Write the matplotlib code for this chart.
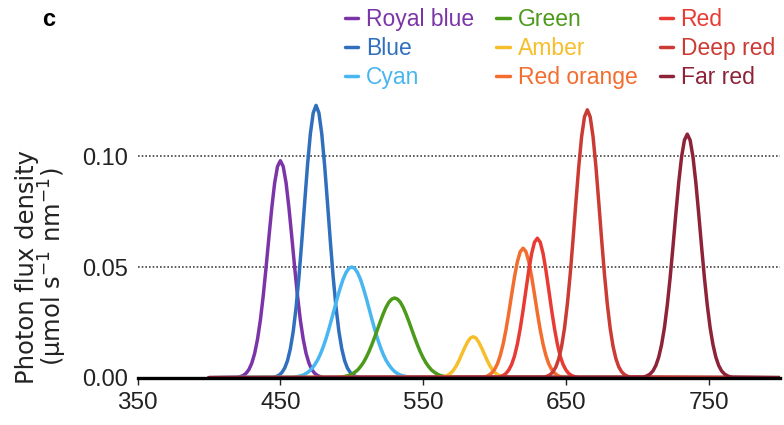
import matplotlib
matplotlib.use("Agg")
import matplotlib.pyplot as plt

# ===============================
# DATA (photon flux density, umol s-1 nm-1)
# ===============================
LED_NAMES = ["Royal blue", "Blue", "Cyan", "Green", "Amber",
             "Red orange", "Red", "Deep red", "Far red"]

LED_COLORS = ["#7b35a8", "#2f6fbd", "#48b6f0", "#4c9a1a", "#f6be2a",
              "#f26d2e", "#e83b33", "#cc3a34", "#8e2237"]

royal_blue_wl = list(range(420, 481, 2))
royal_blue = [0.0002, 0.0005, 0.0010, 0.0020, 0.0037, 0.0066, 0.0110, 0.0174, 0.0260, 0.0370,
              0.0499, 0.0636, 0.0768, 0.0880, 0.0954,
              0.0980,
              0.0954, 0.0880, 0.0768, 0.0636, 0.0499, 0.0370, 0.0260, 0.0174, 0.0110, 0.0066,
              0.0037, 0.0020, 0.0010, 0.0005, 0.0002]

blue_wl = list(range(445, 506, 2))
blue = [0.0002, 0.0005, 0.0011, 0.0023, 0.0043, 0.0077, 0.0131, 0.0209, 0.0317, 0.0454,
        0.0616, 0.0790, 0.0959, 0.1101, 0.1196,
        0.1230,
        0.1196, 0.1101, 0.0959, 0.0790, 0.0616, 0.0454, 0.0317, 0.0209, 0.0131, 0.0077,
        0.0043, 0.0023, 0.0011, 0.0005, 0.0002]

cyan_wl = list(range(458, 543, 2))
cyan = [0.0002, 0.0003, 0.0005, 0.0008, 0.0012, 0.0019, 0.0028, 0.0041, 0.0058, 0.0079,
        0.0106, 0.0139, 0.0177, 0.0220, 0.0267, 0.0315, 0.0363, 0.0407, 0.0446, 0.0475,
        0.0494,
        0.0500,
        0.0494,
        0.0475, 0.0446, 0.0407, 0.0363, 0.0315, 0.0267, 0.0220, 0.0177, 0.0139, 0.0106,
        0.0079, 0.0058, 0.0041, 0.0028, 0.0019, 0.0012, 0.0008, 0.0005, 0.0003, 0.0002]

green_wl = list(range(488, 573, 2))
green = [0.0001, 0.0001, 0.0002, 0.0004, 0.0007, 0.0010, 0.0016, 0.0024, 0.0034, 0.0049,
         0.0067, 0.0090, 0.0117, 0.0148, 0.0182, 0.0218, 0.0254, 0.0288, 0.0318, 0.0341,
         0.0355,
         0.0360,
         0.0355,
         0.0341, 0.0318, 0.0288, 0.0254, 0.0218, 0.0182, 0.0148, 0.0117, 0.0090, 0.0067,
         0.0049, 0.0034, 0.0024, 0.0016, 0.0010, 0.0007, 0.0004, 0.0002, 0.0001, 0.0001]

amber_wl = list(range(561, 610, 2))
amber = [0.0001, 0.0002, 0.0005, 0.0010, 0.0019, 0.0032, 0.0051, 0.0076, 0.0105, 0.0134,
         0.0160, 0.0179,
         0.0185,
         0.0179, 0.0160, 0.0134, 0.0105, 0.0076, 0.0051, 0.0032, 0.0019, 0.0010, 0.0005,
         0.0002, 0.0001]

red_orange_wl = list(range(590, 651, 2))
red_orange = [0.0001, 0.0003, 0.0005, 0.0011, 0.0021, 0.0037, 0.0062, 0.0100, 0.0151, 0.0216,
              0.0293, 0.0376, 0.0456, 0.0524, 0.0569,
              0.0585,
              0.0569, 0.0524, 0.0456, 0.0376, 0.0293, 0.0216, 0.0151, 0.0100, 0.0062, 0.0037,
              0.0021, 0.0011, 0.0005, 0.0003, 0.0001]

red_wl = list(range(600, 661, 2))
red = [0.0001, 0.0002, 0.0005, 0.0010, 0.0019, 0.0035, 0.0060, 0.0098, 0.0152, 0.0222,
       0.0305, 0.0396, 0.0485, 0.0561, 0.0612,
       0.0630,
       0.0612, 0.0561, 0.0485, 0.0396, 0.0305, 0.0222, 0.0152, 0.0098, 0.0060, 0.0035,
       0.0019, 0.0010, 0.0005, 0.0002, 0.0001]

deep_red_wl = list(range(635, 696, 2))
deep_red = [0.0003, 0.0007, 0.0014, 0.0027, 0.0049, 0.0086, 0.0142, 0.0223, 0.0332, 0.0467,
            0.0625, 0.0793, 0.0954, 0.1089, 0.1178,
            0.1210,
            0.1178, 0.1089, 0.0954, 0.0793, 0.0625, 0.0467, 0.0332, 0.0223, 0.0142, 0.0086,
            0.0049, 0.0027, 0.0014, 0.0007, 0.0003]

far_red_wl = list(range(703, 768, 2))
far_red = [0.0002, 0.0004, 0.0009, 0.0017, 0.0031, 0.0055, 0.0093, 0.0149, 0.0226, 0.0328,
           0.0452, 0.0593, 0.0741, 0.0881, 0.0997, 0.1073,
           0.1100,
           0.1073, 0.0997, 0.0881, 0.0741, 0.0593, 0.0452, 0.0328, 0.0226, 0.0149, 0.0093,
           0.0055, 0.0031, 0.0017, 0.0009, 0.0004, 0.0002]

SPECTRA = [(royal_blue_wl, royal_blue), (blue_wl, blue), (cyan_wl, cyan),
           (green_wl, green), (amber_wl, amber), (red_orange_wl, red_orange),
           (red_wl, red), (deep_red_wl, deep_red), (far_red_wl, far_red)]

X_TICKS = [350, 450, 550, 650, 750]
Y_TICKS = [0.00, 0.05, 0.10]
Y_TICK_LABELS = ["0.00", "0.05", "0.10"]

# ===============================
# STYLE
# ===============================
plt.rcParams["font.family"] = ["Liberation Sans", "DejaVu Sans"]
plt.rcParams["mathtext.fontset"] = "dejavusans"

fig = plt.figure(figsize=(7.84, 4.25), dpi=100)
ax = fig.add_axes([0.1755, 0.1113, 0.8195, 0.6772])

# ===============================
# PLOT
# ===============================
for (wl, vals), name, col in zip(SPECTRA, LED_NAMES, LED_COLORS):
    ax.plot([400] + wl + [800], [0.0] + vals + [0.0],
            color=col, lw=2.5, label=name,
            solid_joinstyle="round", solid_capstyle="round")

ax.set_xlim(350, 800)
ax.set_ylim(0, 0.13)

for side in ["top", "right", "left"]:
    ax.spines[side].set_visible(False)
ax.spines["bottom"].set_linewidth(2.4)
ax.spines["bottom"].set_color("black")

ax.set_xticks(X_TICKS)
ax.set_yticks(Y_TICKS)
ax.set_yticklabels(Y_TICK_LABELS)
ax.tick_params(axis="x", length=5, width=1, pad=5, labelsize=17.5, colors="#222222")
ax.tick_params(axis="y", length=0, pad=7, labelsize=17, colors="#222222")

ax.grid(axis="y", linestyle=(0, (1, 1.2)), color="#444444", lw=1.2)

# y label (two lines)
fig.text(42 / 784, 1 - 267 / 425,
         "Photon flux density\n(µmol s$^{-1}$ nm$^{-1}$)",
         rotation=90, ha="center", va="center", multialignment="center",
         fontsize=17.5, family="DejaVu Sans", color="#222222", linespacing=0.95)

# panel letter
fig.text(49 / 784, 1 - 19 / 425, "c", fontsize=17, fontweight="bold",
         ha="center", va="center")

# legend
fig.legend(loc="upper left", bbox_to_anchor=(345 / 784, 1 - 8 / 425),
           ncol=3, frameon=False, labelcolor="linecolor",
           prop={"size": 16.5},
           handlelength=0.57, handletextpad=0.35, columnspacing=0.97,
           labelspacing=0.27, borderpad=0, borderaxespad=0)

fig.savefig("out.png", dpi=100)
